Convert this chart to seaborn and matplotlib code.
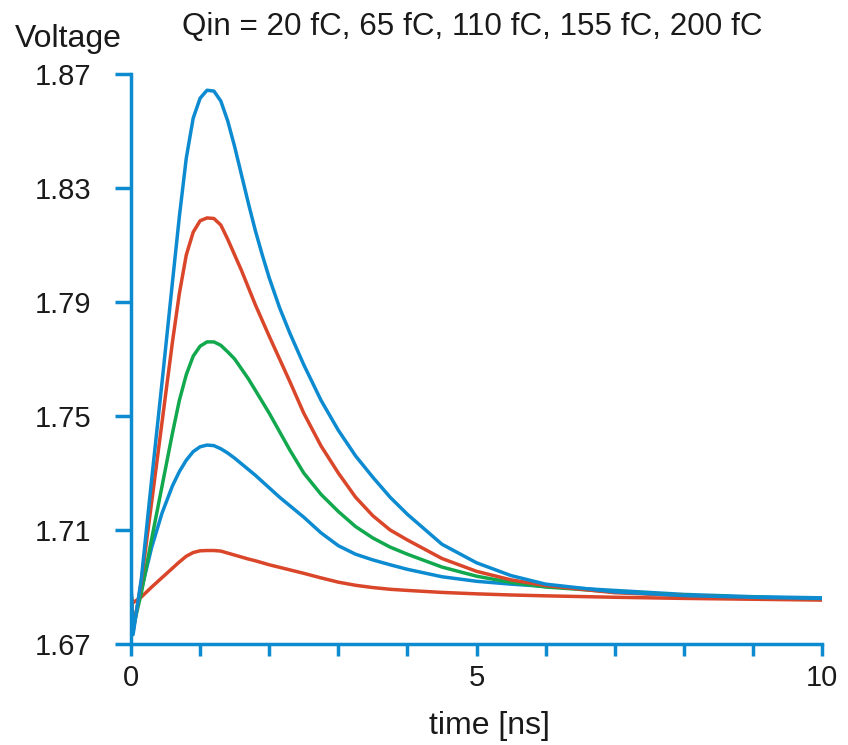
import numpy as np
import pandas as pd
import matplotlib
matplotlib.use("Agg")
import matplotlib.pyplot as plt
from matplotlib.ticker import MultipleLocator, FixedLocator
import seaborn as sns

sns.set_style("white")
plt.rcParams['font.family'] = ['Liberation Sans', 'DejaVu Sans']

# time grid [ns]
t = [0.0, 0.03, 0.15, 0.3, 0.45, 0.6, 0.7, 0.8, 0.9, 1.0, 1.1, 1.2, 1.3, 1.4, 1.5,
     1.6, 1.7, 1.8, 1.9, 2.0, 2.15, 2.3, 2.5, 2.75, 3.0, 3.25, 3.5, 3.75, 4.0, 4.5,
     5.0, 5.5, 6.0, 7.0, 8.0, 9.0, 10.0]

# voltages, one list per input charge
v_20 = [1.6866, 1.6845, 1.6865, 1.6900, 1.6933, 1.6966, 1.6988, 1.7008, 1.7021, 1.7027,
        1.7028, 1.7028, 1.7026, 1.7019, 1.7012, 1.7005, 1.6998, 1.6992, 1.6985, 1.6978,
        1.6969, 1.6960, 1.6948, 1.6932, 1.6917, 1.6906, 1.6898, 1.6892, 1.6888, 1.6881,
        1.6876, 1.6872, 1.6869, 1.6864, 1.6860, 1.6857, 1.6854]
v_65 = [1.6870, 1.6767, 1.6890, 1.7040, 1.7160, 1.7255, 1.7305, 1.7345, 1.7375, 1.7392,
        1.7398, 1.7396, 1.7385, 1.7370, 1.7352, 1.7332, 1.7312, 1.7292, 1.7270, 1.7248,
        1.7215, 1.7185, 1.7145, 1.7090, 1.7045, 1.7015, 1.6995, 1.6978, 1.6962, 1.6936,
        1.6920, 1.6910, 1.6902, 1.6888, 1.6874, 1.6866, 1.6862]
v_110 = [1.6885, 1.6756, 1.6880, 1.7070, 1.7255, 1.7440, 1.7555, 1.7645, 1.7710, 1.7745,
         1.7760, 1.7760, 1.7748, 1.7725, 1.7700, 1.7665, 1.7630, 1.7590, 1.7550, 1.7510,
         1.7445, 1.7380, 1.7300, 1.7225, 1.7165, 1.7112, 1.7072, 1.7040, 1.7015, 1.6970,
         1.6938, 1.6916, 1.6900, 1.6883, 1.6871, 1.6864, 1.6858]
v_155 = [1.6900, 1.6743, 1.6920, 1.7200, 1.7480, 1.7760, 1.7930, 1.8065, 1.8145, 1.8185,
         1.8195, 1.8193, 1.8170, 1.8120, 1.8065, 1.8010, 1.7950, 1.7890, 1.7835, 1.7780,
         1.7700, 1.7620, 1.7510, 1.7395, 1.7300, 1.7215, 1.7150, 1.7100, 1.7065, 1.7000,
         1.6955, 1.6925, 1.6905, 1.6880, 1.6870, 1.6862, 1.6857]
v_200 = [1.6920, 1.6733, 1.6930, 1.7280, 1.7620, 1.7970, 1.8200, 1.8405, 1.8545, 1.8615,
         1.8643, 1.8640, 1.8605, 1.8535, 1.8445, 1.8345, 1.8245, 1.8150, 1.8065, 1.7985,
         1.7880, 1.7790, 1.7680, 1.7555, 1.7450, 1.7360, 1.7285, 1.7215, 1.7155, 1.7050,
         1.6985, 1.6940, 1.6910, 1.6883, 1.6870, 1.6864, 1.6860]

charges = ["20 fC", "65 fC", "110 fC", "155 fC", "200 fC"]
series = [v_20, v_65, v_110, v_155, v_200]

blue = "#0d8bd1"
red = "#d9462a"
green = "#12a84e"
palette = {"20 fC": red, "65 fC": blue, "110 fC": green, "155 fC": red, "200 fC": blue}

df = pd.concat([pd.DataFrame({"time": t, "voltage": v, "charge": c})
                for c, v in zip(charges, series)], ignore_index=True)

fig = plt.figure(figsize=(8.48, 7.45), dpi=100)
ax = fig.add_axes([131 / 848, 1 - 644 / 745, (822 - 131) / 848, (644 - 74) / 745])

sns.lineplot(data=df, x="time", y="voltage", hue="charge", hue_order=charges,
             palette=palette, estimator=None, sort=False, linewidth=2.5,
             legend=False, ax=ax)
for ln in ax.lines:
    ln.set_solid_joinstyle("round")

ax.set_xlim(0, 10)
ax.set_ylim(1.67, 1.87)
ax.xaxis.set_major_locator(FixedLocator([0, 5, 10]))
ax.xaxis.set_minor_locator(MultipleLocator(1))
yt = np.arange(1.67, 1.8701, 0.04)
ax.set_yticks(yt)
ax.set_yticklabels([f"{y:.2f}" for y in yt])
ax.set_xticklabels(["0", "5", "10"])

for s in ["top", "right"]:
    ax.spines[s].set_visible(False)
for s in ["left", "bottom"]:
    ax.spines[s].set_color(blue)
    ax.spines[s].set_linewidth(2.5)

ax.tick_params(axis="y", which="both", direction="out", length=11.5, width=2.5,
               color=blue, labelsize=21, pad=17, left=True, labelcolor="#1a1a1a")
ax.tick_params(axis="x", which="both", direction="out", length=8.6, width=2.5,
               color=blue, labelsize=21, pad=6, bottom=True, labelcolor="#1a1a1a")
ax.set_xlabel("")
ax.set_ylabel("")

fig.text(15 / 848, 1 - 46.7 / 745, "Voltage", fontsize=23, ha="left", va="baseline",
         color="#1a1a1a")
fig.text(472 / 848, 1 - 35 / 745, "Qin = 20 fC, 65 fC, 110 fC, 155 fC, 200 fC",
         fontsize=22.6, ha="center", va="baseline", color="#1a1a1a")
fig.text(489 / 848, 1 - 734 / 745, "time [ns]", fontsize=23, ha="center",
         va="baseline", color="#1a1a1a")

fig.savefig("out.png", dpi=100)
